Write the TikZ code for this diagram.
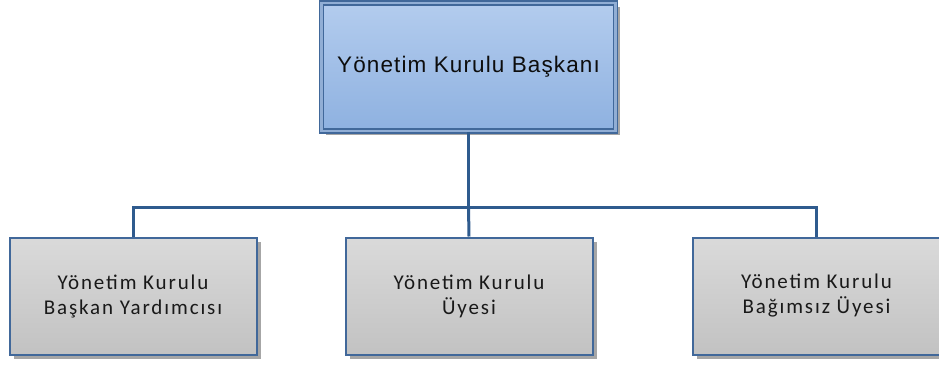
\documentclass[tikz,border=0pt]{standalone}
\usepackage{fontspec}
\setmainfont{Carlito}
\newfontfamily\topfont[LetterSpace=5]{Liberation Sans}
\newfontfamily\boxfont[LetterSpace=9]{Carlito}
\usetikzlibrary{shadows,positioning}
\definecolor{edgeblue}{HTML}{41689A}
\definecolor{lineblue}{HTML}{2F5B8E}
\definecolor{topA}{HTML}{B3CCEE}
\definecolor{topB}{HTML}{8EB1E0}
\definecolor{grayA}{HTML}{DADADA}
\definecolor{grayB}{HTML}{C2C2C2}
\tikzset{
  boxshadow/.style={drop shadow={shadow xshift=4pt,shadow yshift=-4pt,fill=black,opacity=0.35}},
  topbox/.style={draw=edgeblue,line width=1.5pt,top color=topA,bottom color=topB,
    minimum width=294pt,minimum height=128pt,inner sep=0pt,boxshadow,
    double=topA!70!edgeblue,double distance=2.5pt,
    font=\topfont\fontsize{22.5}{24}\selectfont,text=black!95},
  subbox/.style={draw=edgeblue,line width=2pt,top color=grayA,bottom color=grayB,
    minimum width=247pt,minimum height=117pt,inner sep=0pt,boxshadow,align=center,
    font=\boxfont\fontsize{21}{25}\selectfont,text=black!90},
  conn/.style={draw=lineblue,line width=3pt}
}
\begin{document}
\begin{tikzpicture}[x=1pt,y=-1pt]
\useasboundingbox (0,0) rectangle (939,364);
\node[topbox] (top) at (468.5,67) {Yönetim Kurulu Başkanı};
\node[subbox] (left) at (133,296) {Yönetim Kurulu\\Başkan Yardımcısı};
\node[subbox] (mid) at (469,296) {Yönetim Kurulu\\Üyesi};
\node[subbox] (right) at (816.5,296) {Yönetim Kurulu\\Bağımsız Üyesi};
\coordinate (bus) at (468.5,207);
\draw[conn] (top.south) -- (bus);
\draw[conn] (left.north) |- (bus) -| (right.north);
\draw[conn] (bus) -- (mid.north);
\end{tikzpicture}
\end{document}
